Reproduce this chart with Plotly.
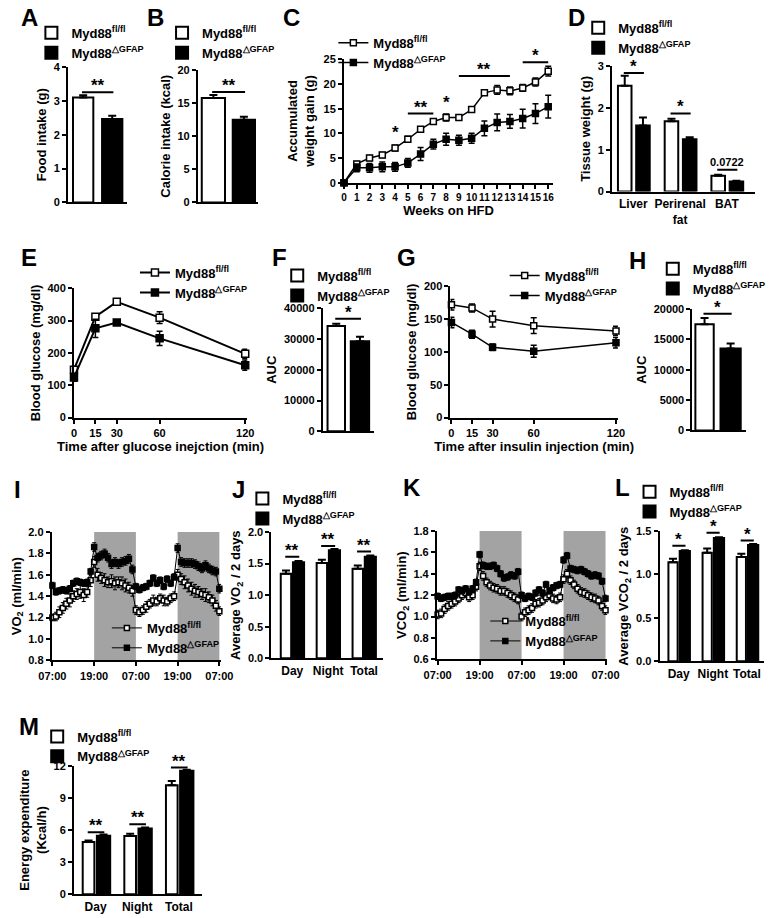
import plotly.graph_objects as go

W, H = 778, 918
FONT = "Liberation Sans, Arial, Helvetica, sans-serif"

GROUPS = ["Myd88<sup>fl/fl</sup>", "Myd88<sup>△GFAP</sup>"]

# ---------------- data ----------------
# A
food_cat = ["Food intake"]
food_fl, food_fl_err = [3.10], [0.07]
food_gfap, food_gfap_err = [2.47], [0.09]
food_sig = [("**", 3.26)]
# B
cal_cat = ["Calorie intake"]
cal_fl, cal_fl_err = [15.8], [0.45]
cal_gfap, cal_gfap_err = [12.5], [0.45]
cal_sig = [("**", 16.7)]
# C
weeks = list(range(17))
gain_fl = [0, 3.8, 5.0, 5.6, 7.0, 8.8, 10.8, 12.4, 13.2, 13.2, 14.8, 18.2, 18.8, 18.6, 19.2, 20.4, 22.6]
gain_fl_err = [0, 0.5, 0.5, 0.5, 0.6, 0.6, 0.5, 0.5, 0.7, 0.5, 0.4, 0.5, 0.9, 0.8, 0.7, 0.8, 1.0]
gain_gfap = [0, 3.0, 3.0, 3.2, 3.2, 4.0, 5.8, 7.8, 8.8, 8.6, 9.0, 11.0, 12.2, 12.4, 13.0, 14.0, 15.4]
gain_gfap_err = [0, 0.8, 0.9, 1.0, 0.9, 0.9, 1.3, 1.0, 1.2, 1.0, 1.0, 1.5, 1.7, 1.4, 1.9, 2.0, 2.3]
gain_sig = [(4, 4, 8.8, "*"), (5, 7, 14.0, "**"), (8, 8, 15.0, "*"), (9, 13, 21.6, "**"), (14, 16, 24.4, "*")]
# D
tissues = ["Liver", "Perirenal<br>fat", "BAT"]
tissue_fl = [2.53, 1.68, 0.38]
tissue_fl_err = [0.24, 0.06, 0.02]
tissue_gfap = [1.58, 1.25, 0.24]
tissue_gfap_err = [0.19, 0.05, 0.02]
tissue_sig = [("*", 2.84), ("*", 1.87), ("0.0722", 0.52)]
# E
gtt_time = [0, 15, 30, 60, 120]
gtt_fl = [148, 312, 358, 309, 197]
gtt_fl_err = [10, 8, 8, 18, 14]
gtt_gfap = [124, 276, 294, 245, 162]
gtt_gfap_err = [12, 28, 6, 22, 16]
# F
auc_cat = ["AUC"]
gtt_auc_fl, gtt_auc_fl_err = [34200], [700]
gtt_auc_gfap, gtt_auc_gfap_err = [29200], [1500]
gtt_auc_sig = [("*", 36500)]
# G
itt_time = [0, 15, 30, 60, 120]
itt_fl = [172, 167, 150, 140, 132]
itt_fl_err = [8, 6, 12, 12, 7]
itt_gfap = [145, 127, 107, 101, 114]
itt_gfap_err = [8, 6, 5, 9, 8]
# H
itt_auc_fl, itt_auc_fl_err = [17500], [1000]
itt_auc_gfap, itt_auc_gfap_err = [13500], [800]
itt_auc_sig = [("*", 19200)]
# I, K  (hourly, 48 h)
hours = list(range(49))
dark_periods = [(12, 24), (36, 48)]
clock_ticks = [0, 12, 24, 36, 48]
clock_labels = ["07:00", "19:00", "07:00", "19:00", "07:00"]
vo2_fl = [1.20, 1.21, 1.25, 1.29, 1.33, 1.36, 1.40, 1.42, 1.44, 1.41, 1.44, 1.55, 1.72, 1.60, 1.57, 1.55,
          1.53, 1.54, 1.52, 1.53, 1.52, 1.50, 1.48, 1.45, 1.27, 1.25, 1.27, 1.30, 1.33, 1.36, 1.35, 1.38,
          1.36, 1.35, 1.38, 1.40, 1.60, 1.56, 1.53, 1.50, 1.47, 1.45, 1.44, 1.42, 1.41, 1.39, 1.36, 1.31, 1.26]
vo2_fl_err = [0.03, 0.04, 0.05, 0.05, 0.05, 0.06, 0.05, 0.05, 0.06, 0.06, 0.05, 0.06, 0.05, 0.06, 0.05, 0.06,
              0.05, 0.06, 0.06, 0.05, 0.06, 0.06, 0.05, 0.05, 0.04, 0.04, 0.04, 0.05, 0.04, 0.05, 0.04, 0.04,
              0.05, 0.04, 0.04, 0.04, 0.05, 0.05, 0.06, 0.06, 0.06, 0.06, 0.05, 0.05, 0.06, 0.05, 0.05, 0.05, 0.04]
vo2_gfap = [1.50, 1.44, 1.45, 1.46, 1.45, 1.47, 1.52, 1.54, 1.53, 1.52, 1.53, 1.63, 1.86, 1.76, 1.78, 1.80,
            1.76, 1.70, 1.72, 1.70, 1.72, 1.73, 1.75, 1.65, 1.49, 1.46, 1.48, 1.49, 1.52, 1.57, 1.52, 1.55,
            1.49, 1.56, 1.52, 1.58, 1.85, 1.72, 1.71, 1.71, 1.71, 1.70, 1.68, 1.66, 1.69, 1.66, 1.64, 1.63, 1.47]
vo2_gfap_err = [0.03] * 12 + [0.04] * 12 + [0.03] * 12 + [0.04] * 13
vco2_fl = [1.02, 1.03, 1.07, 1.10, 1.12, 1.14, 1.17, 1.20, 1.22, 1.18, 1.20, 1.28, 1.47, 1.38, 1.32, 1.29,
           1.27, 1.26, 1.24, 1.24, 1.22, 1.20, 1.18, 1.16, 1.00, 1.04, 1.06, 1.08, 1.12, 1.13, 1.15, 1.18,
           1.20, 1.17, 1.16, 1.18, 1.35, 1.40, 1.34, 1.30, 1.26, 1.23, 1.22, 1.20, 1.18, 1.17, 1.15, 1.10, 1.06]
vco2_fl_err = [0.04] * 49
vco2_gfap = [1.19, 1.17, 1.18, 1.19, 1.19, 1.20, 1.25, 1.24, 1.26, 1.23, 1.26, 1.32, 1.58, 1.48, 1.47, 1.47,
             1.48, 1.45, 1.40, 1.36, 1.37, 1.39, 1.38, 1.42, 1.20, 1.17, 1.19, 1.18, 1.22, 1.25, 1.22, 1.30,
             1.24, 1.27, 1.29, 1.30, 1.53, 1.57, 1.45, 1.44, 1.43, 1.44, 1.42, 1.40, 1.38, 1.39, 1.38, 1.33, 1.17]
vco2_gfap_err = [0.03] * 49
# J, L, M
periods = ["Day", "Night", "Total"]
avg_vo2_fl = [1.34, 1.51, 1.42]
avg_vo2_fl_err = [0.05, 0.05, 0.05]
avg_vo2_gfap = [1.52, 1.71, 1.61]
avg_vo2_gfap_err = [0.02, 0.02, 0.02]
avg_vo2_sig = [("**", 1.61), ("**", 1.78), ("**", 1.69)]
avg_vco2_fl = [1.14, 1.25, 1.20]
avg_vco2_fl_err = [0.04, 0.05, 0.04]
avg_vco2_gfap = [1.27, 1.42, 1.34]
avg_vco2_gfap_err = [0.01, 0.01, 0.01]
avg_vco2_sig = [("*", 1.33), ("*", 1.48), ("*", 1.39)]
ee_fl = [4.88, 5.45, 10.2]
ee_fl_err = [0.15, 0.2, 0.4]
ee_gfap = [5.48, 6.15, 11.55]
ee_gfap_err = [0.1, 0.1, 0.1]
ee_sig = [("**", 5.8), ("**", 6.55), ("**", 11.85)]

# ---------------- layout helpers ----------------
def xd(a, b):
    return [a / W, b / W]


def yd(top, bottom):
    return [1 - bottom / H, 1 - top / H]


fig = go.Figure()
layout = dict(
    width=W, height=H, margin=dict(l=0, r=0, t=0, b=0),
    paper_bgcolor="white", plot_bgcolor="white",
    font=dict(family=FONT, size=11, color="black", weight="bold"),
    barmode="overlay", annotations=[], shapes=[],
)

AX = dict(showline=True, linecolor="black", linewidth=2, ticks="outside", ticklen=4,
          tickwidth=2, tickcolor="black", showgrid=False, zeroline=False,
          tickfont=dict(size=11, family=FONT, weight="bold"))


def set_axes(n, xpx, ypx, xkw, ykw):
    xa = dict(AX, domain=xd(*xpx), anchor=f"y{n}")
    xa.update(xkw)
    ya = dict(AX, domain=yd(*ypx), anchor=f"x{n}")
    ya.update(ykw)
    layout[f"xaxis{n}"] = xa
    layout[f"yaxis{n}"] = ya


def legend(n, px, py, size=13):
    name = "legend" if n == 1 else f"legend{n}"
    layout[name] = dict(x=px / W, y=1 - py / H, xanchor="left", yanchor="top",
                        bgcolor="rgba(0,0,0,0)", borderwidth=0, itemwidth=30,
                        tracegroupgap=0, font=dict(size=size, family=FONT, weight="bold"),
                        itemclick=False)
    return name


def title(text, size=13, standoff=4):
    return dict(text=text, font=dict(size=size, family=FONT, weight="bold"), standoff=standoff)


def star(n, x, y, text, size=17, yshift=-5):
    small = not text.startswith("*")
    layout["annotations"].append(dict(
        x=x, y=y, xref=f"x{n}", yref=f"y{n}", text=text, showarrow=False,
        yanchor="bottom", yshift=(0 if small else yshift),
        font=dict(size=(11 if small else size), family=FONT, weight="bold")))


def hline(n, x0, x1, y):
    layout["shapes"].append(dict(type="line", xref=f"x{n}", yref=f"y{n}", x0=x0, x1=x1,
                                 y0=y, y1=y, line=dict(color="black", width=2)))


def bar_panel(n, cats, fl, fl_err, gf, gf_err, xpx, ypx, yrange, dtick, xrange,
              wgeom, bgeom, leg, ytitle, sig, show_cats=True, ystandoff=4, yfmt=None):
    lname = legend(n, *leg)
    for vals, errs, color, (off, wid), name in [
        (fl, fl_err, "white", wgeom, GROUPS[0]),
        (gf, gf_err, "black", bgeom, GROUPS[1]),
    ]:
        fig.add_trace(go.Bar(
            x=cats, y=vals, offset=off, width=wid, name=name, legend=lname,
            xaxis=f"x{n}", yaxis=f"y{n}",
            marker=dict(color=color, line=dict(color="black", width=2)),
            error_y=dict(type="data", array=errs, arrayminus=[0] * len(errs), symmetric=False,
                         color="black", thickness=2, width=4)))
    ykw = dict(range=yrange, dtick=dtick, title=title(ytitle, standoff=ystandoff))
    if yfmt:
        ykw["tickformat"] = yfmt
    set_axes(n, xpx, ypx,
             dict(type="category", range=xrange, ticks="", showticklabels=show_cats,
                  tickfont=dict(size=12, family=FONT, weight="bold")),
             ykw)
    wc = wgeom[0] + wgeom[1] / 2
    bc = bgeom[0] + bgeom[1] / 2
    for i, (txt, y) in enumerate(sig):
        hline(n, i + wc - 0.02, i + bc + 0.02, y)
        star(n, i + (wc + bc) / 2, y, txt)


def line_panel(n, x, fl, fl_err, gf, gf_err, leg, msize=7, lw=2, ew=1.5, ewid=3):
    lname = legend(n, *leg)
    for vals, errs, mcolor, name in [(fl, fl_err, "white", GROUPS[0]),
                                     (gf, gf_err, "black", GROUPS[1])]:
        fig.add_trace(go.Scatter(
            x=x, y=vals, mode="lines+markers", name=name, legend=lname,
            xaxis=f"x{n}", yaxis=f"y{n}", cliponaxis=False,
            line=dict(color="black", width=lw),
            marker=dict(symbol="square", size=msize, color=mcolor, line=dict(color="black", width=1.5)),
            error_y=dict(type="data", array=errs, color="black", thickness=ew, width=ewid)))


# ---------------- panels ----------------
# A
bar_panel(1, food_cat, food_fl, food_fl_err, food_gfap, food_gfap_err,
          (57, 118), (62, 199), [0, 4], 1, [-0.5, 0.5], (-0.418, 0.344), (0.074, 0.344),
          (19, 12), "Food intake (g)", food_sig, show_cats=False)
# B
bar_panel(2, cal_cat, cal_fl, cal_fl_err, cal_gfap, cal_gfap_err,
          (191, 253), (65, 199), [0, 20], 5, [-0.5, 0.5], (-0.435, 0.387), (0.081, 0.371),
          (154, 12), "Calorie intake (kcal)", cal_sig, show_cats=False)
# C
line_panel(3, weeks, gain_fl, gain_fl_err, gain_gfap, gain_gfap_err, (331, 22), msize=6, lw=1.5)
set_axes(3, (342, 558), (54, 179),
         dict(range=[0, 16.38], dtick=1, tickangle=0, tickfont=dict(size=10, family=FONT, weight="bold"),
              title=title("Weeks on HFD", standoff=2)),
         dict(range=[0, 25], dtick=5, title=title("Accumulated<br>weight gain (g)", standoff=6)))
for x0, x1, y, txt in gain_sig:
    if x1 > x0:
        hline(3, x0, x1, y)
    star(3, (x0 + x1) / 2, y, txt)
# D
bar_panel(4, tissues, tissue_fl, tissue_fl_err, tissue_gfap, tissue_gfap_err, (619, 767), (61, 188),
          [0, 3], 1, [-0.455, 2.61], (-0.33, 0.29), (0.06, 0.29), (584, 7), "Tissue weight (g)",
          tissue_sig)
# E
line_panel(5, gtt_time, gtt_fl, gtt_fl_err, gtt_gfap, gtt_gfap_err, (126, 255))
set_axes(5, (63, 242), (286, 417),
         dict(range=[0, 121.4], tickvals=gtt_time, title=title("Time after glucose inejction (min)", standoff=1)),
         dict(range=[0, 400], dtick=100, title=title("Blood glucose (mg/dl)", standoff=4)))
# F
bar_panel(6, auc_cat, gtt_auc_fl, gtt_auc_fl_err, gtt_auc_gfap, gtt_auc_gfap_err,
          (320, 373), (306, 431), [0, 40000], 10000, [-0.5, 0.5], (-0.406, 0.34), (0.047, 0.358),
          (273, 258), "AUC", gtt_auc_sig, show_cats=False, yfmt="d")
# G
line_panel(7, itt_time, itt_fl, itt_fl_err, itt_gfap, itt_gfap_err, (508, 258), msize=6, lw=1.5)
set_axes(7, (452, 625), (284, 417),
         dict(range=[-0.7, 121.4], tickvals=itt_time, title=title("Time after insulin injection (min)", standoff=1)),
         dict(range=[0, 200], dtick=50, title=title("Blood glucose (mg/dl)", standoff=4)))
# H
bar_panel(8, auc_cat, itt_auc_fl, itt_auc_fl_err, itt_auc_gfap, itt_auc_gfap_err,
          (702, 757), (307, 430), [0, 20000], 5000, [-0.5, 0.5], (-0.445, 0.345), (0.027, 0.38),
          (661, 251), "AUC", itt_auc_sig, show_cats=False, yfmt="d")
# I
line_panel(9, hours, vo2_fl, vo2_fl_err, vo2_gfap, vo2_gfap_err, (97, 615), msize=5, lw=1, ew=1, ewid=2)
set_axes(9, (40, 215), (533, 663),
         dict(range=[-0.2, 48.5], tickvals=clock_ticks, ticktext=clock_labels),
         dict(range=[0.8, 2.0], dtick=0.2, tickformat=".1f", title=title("VO<sub>2</sub> (ml/min)", standoff=4)))
# J
bar_panel(10, periods, avg_vo2_fl, avg_vo2_fl_err, avg_vo2_gfap, avg_vo2_gfap_err, (267, 382), (533, 661),
          [0, 2.0], 0.5, [-0.58, 2.52], (-0.32, 0.29), (0.02, 0.31), (237, 484),
          "Average VO<sub>2</sub> / 2 days", avg_vo2_sig, yfmt=".1f")
# K
line_panel(11, hours, vco2_fl, vco2_fl_err, vco2_gfap, vco2_gfap_err, (488, 608), msize=5, lw=1, ew=1, ewid=2)
set_axes(11, (438, 614), (532, 662),
         dict(range=[-0.2, 48.5], tickvals=clock_ticks, ticktext=clock_labels),
         dict(range=[0.6, 1.8], dtick=0.2, tickformat=".1f", title=title("VCO<sub>2</sub> (ml/min)", standoff=4)))
# L
bar_panel(12, periods, avg_vco2_fl, avg_vco2_fl_err, avg_vco2_gfap, avg_vco2_gfap_err, (668, 776), (532, 664),
          [0, 1.5], 0.5, [-0.56, 2.5], (-0.3, 0.27), (0.03, 0.3), (637, 477),
          "Average VCO<sub>2</sub> / 2 days", avg_vco2_sig, yfmt=".1f")
# M
bar_panel(13, periods, ee_fl, ee_fl_err, ee_gfap, ee_gfap_err, (63, 195), (770, 900),
          [0, 12], 3, [-0.52, 2.55], (-0.31, 0.28), (0.03, 0.32), (25, 725),
          "Energy expenditure<br>(Kcal/h)", ee_sig)

# dark-phase shading
for n, (y0, y1) in [(9, (0.8, 2.0)), (11, (0.6, 1.8))]:
    for a, b in dark_periods:
        layout["shapes"].append(dict(type="rect", xref=f"x{n}", yref=f"y{n}", x0=a, x1=b, y0=y0, y1=y1,
                                     fillcolor="#a3a3a3", line=dict(width=0), layer="below"))

# panel letters
letters = [("A", 17, 12), ("B", 147, 12), ("C", 288, 12), ("D", 582, 12),
           ("E", 17, 255), ("F", 275, 255), ("G", 407, 255), ("H", 645, 258),
           ("I", 5, 490), ("J", 233, 490), ("K", 412, 488), ("L", 630, 488), ("M", 17, 730)]
for t, px, py in letters:
    layout["annotations"].append(dict(x=px / W, y=1 - py / H, xref="paper", yref="paper", text=t,
                                      showarrow=False, xanchor="center", yanchor="middle",
                                      font=dict(size=24, family=FONT, weight="bold")))

fig.update_layout(**layout)
fig.write_html("out.html", config={"displayModeBar": False},
               post_script="document.body.style.margin='0px';document.body.style.padding='0px';")
